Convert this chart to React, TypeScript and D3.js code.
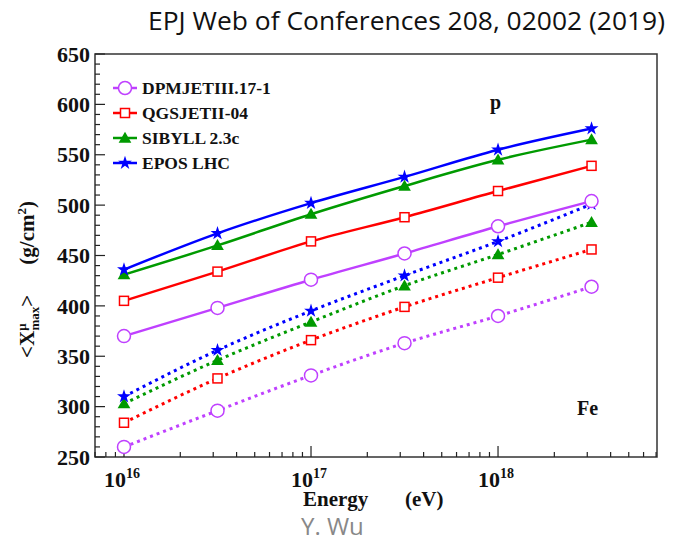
import React from 'react';
import * as d3 from 'd3';

// energies (eV), log10
const logE = [16, 16.5, 17, 17.5, 18, 18.5];

const models = ['DPMJETIII.17-1', 'QGSJETII-04', 'SIBYLL 2.3c', 'EPOS LHC'];

// proton
const dpmP = [370, 398, 426, 452, 479, 504];
const qgsP = [405, 434, 464, 488, 514, 539];
const sibP = [431, 460, 491, 519, 545, 565];
const eposP = [436, 472, 502, 528, 555, 576];

// iron
const dpmFe = [260, 296, 331, 363, 390, 419];
const qgsFe = [284, 328, 366, 399, 428, 456];
const sibFe = [303, 346, 384, 420, 451, 483];
const eposFe = [310, 356, 395, 430, 464, 501];

const yTicks = [250, 300, 350, 400, 450, 500, 550, 600, 650];
const xDecades = [16, 17, 18];

const colors = ['#bf40ff', '#ff0000', '#009a00', '#0000ff'];
const markers = ['circle', 'square', 'triangle', 'star'];

const W = 675;
const H = 542;
const m = { left: 95, right: 657, top: 54, bottom: 457 };

const x = d3.scaleLinear().domain([15.845, 18.85]).range([m.left, m.right]);
const y = d3.scaleLinear().domain([250, 650]).range([m.bottom, m.top]);

const serif = 'Liberation Serif, Times New Roman, serif';

function Marker({ kind, cx, cy, color }: { kind: string; cx: number; cy: number; color: string }) {
  if (kind === 'circle') return <circle cx={cx} cy={cy} r={6.5} fill="white" stroke={color} strokeWidth={1.5} />;
  if (kind === 'square') return <rect x={cx - 4.5} y={cy - 4.5} width={9} height={9} fill="white" stroke={color} strokeWidth={1.5} />;
  if (kind === 'triangle') {
    const p = d3.symbol(d3.symbolTriangle, 70)();
    return <path d={p ?? ''} transform={`translate(${cx},${cy + 1})`} fill={color} />;
  }
  const s = d3.symbol(d3.symbolStar, 60)();
  return <path d={s ?? ''} transform={`translate(${cx},${cy})`} fill={color} />;
}

export default function App() {
  const line = d3
    .line<number>()
    .x((_, i) => x(logE[i]))
    .y(d => y(d))
    .curve(d3.curveMonotoneX);

  const pSeries = [dpmP, qgsP, sibP, eposP];
  const feSeries = [dpmFe, qgsFe, sibFe, eposFe];

  const yMinor = d3.range(250, 651, 10);
  const xMinor: number[] = [];
  for (let dec = 15; dec <= 18; dec++) {
    for (let k = 2; k <= 9; k++) {
      const v = dec + Math.log10(k);
      if (v > 15.845 && v < 18.85) xMinor.push(v);
    }
  }

  return (
    <svg width={W} height={H} style={{ position: 'absolute', left: 0, top: 0, background: 'white' }}>
      <text x={665} y={30} textAnchor="end" fontFamily="Open Sans, sans-serif" fontSize={26} textLength={517} lengthAdjust="spacingAndGlyphs" fill="#111">
        EPJ Web of Conferences 208, 02002 (2019)
      </text>

      {/* frame */}
      <rect x={m.left} y={m.top} width={m.right - m.left} height={m.bottom - m.top} fill="none" stroke="#333" strokeWidth={1.5} />

      {/* y ticks */}
      {yMinor.map(v => (
        <line key={'ym' + v} x1={m.left} x2={m.left + (v % 50 === 0 ? 10 : 5)} y1={y(v)} y2={y(v)} stroke="#222" strokeWidth={1.2} />
      ))}
      {yTicks.map(v => (
        <text key={'yt' + v} x={90} y={y(v)} dy="0.35em" textAnchor="end" fontFamily={serif} fontWeight="bold" fontSize={22} fill="#111">
          {v}
        </text>
      ))}

      {/* x ticks */}
      {xMinor.map(v => (
        <line key={'xm' + v} x1={x(v)} x2={x(v)} y1={m.bottom} y2={m.bottom - 5} stroke="#222" strokeWidth={1.2} />
      ))}
      {xDecades.map(v => (
        <g key={'xd' + v}>
          <line x1={x(v)} x2={x(v)} y1={m.bottom} y2={m.bottom - 11} stroke="#222" strokeWidth={1.2} />
          <text x={x(v) - 2} y={487} textAnchor="middle" fontFamily={serif} fontWeight="bold" fontSize={22} fill="#111">
            10<tspan dy={-9} fontSize={14}>{v}</tspan>
          </text>
        </g>
      ))}

      {/* axis titles */}
      <text x={303} y={506} fontFamily={serif} fontWeight="bold" fontSize={21} fill="#111">Energy</text>
      <text x={405} y={506} fontFamily={serif} fontWeight="bold" fontSize={21} fill="#111">(eV)</text>
      <g transform="translate(34,358) rotate(-90)">
        <text x={0} y={0} fontFamily={serif} fontWeight="bold" fontSize={21} fill="#111">
          {'<X'}
          <tspan dy={-8} fontSize={13}>μ</tspan>
          <tspan dx={-7} dy={13} fontSize={13}>max</tspan>
          <tspan dy={-5}>{'>'}</tspan>
          <tspan dx={30}>(g/cm</tspan>
          <tspan dy={-8} fontSize={13}>2</tspan>
          <tspan dy={8}>)</tspan>
        </text>
      </g>

      {/* series */}
      {[feSeries, pSeries].map((group, gi) =>
        group.map((vals, si) => (
          <g key={`s${gi}-${si}`}>
            <path
              d={line(vals) ?? ''}
              fill="none"
              stroke={colors[si]}
              strokeWidth={gi === 0 ? 3 : 2.5}
              strokeDasharray={gi === 0 ? '3,4' : undefined}
            />
            {vals.map((v, i) => (
              <Marker key={i} kind={markers[si]} cx={x(logE[i])} cy={y(v)} color={colors[si]} />
            ))}
          </g>
        ))
      )}

      {/* legend */}
      {models.map((name, i) => {
        const ly = 88 + i * 25;
        return (
          <g key={name}>
            <line x1={113} x2={137} y1={ly} y2={ly} stroke={colors[i]} strokeWidth={2.5} />
            <Marker kind={markers[i]} cx={125} cy={ly} color={colors[i]} />
            <text x={142} y={ly} dy="0.35em" fontFamily={serif} fontWeight="bold" fontSize={17.5} fill="#111">
              {name}
            </text>
          </g>
        );
      })}

      <text x={490} y={109} fontFamily={serif} fontWeight="bold" fontSize={20} fill="#111">p</text>
      <text x={577} y={415} fontFamily={serif} fontWeight="bold" fontSize={20} fill="#111">Fe</text>

      <text x={301} y={535} fontFamily="Open Sans, sans-serif" fontSize={24} fill="#888">Y. Wu</text>
    </svg>
  );
}
